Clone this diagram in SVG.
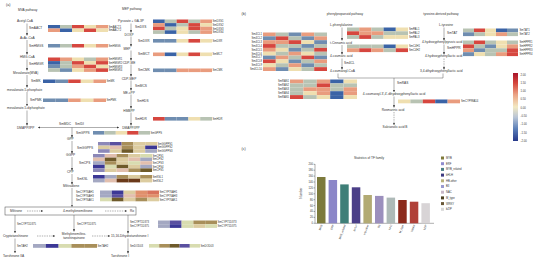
<svg xmlns="http://www.w3.org/2000/svg" width="550" height="261" viewBox="0 0 550 261">
<defs>
<marker id="ah" viewBox="0 0 6 6" refX="6" refY="3" markerWidth="2.2" markerHeight="2.2" markerUnits="userSpaceOnUse" orient="auto-start-reverse"><path d="M0,0 L6,3 L0,6 z" fill="#333"/></marker>
<linearGradient id="cb" x1="0" y1="0" x2="0" y2="1">
<stop offset="0" stop-color="#a8142a"/><stop offset="0.15" stop-color="#d5473d"/><stop offset="0.32" stop-color="#eba486"/><stop offset="0.5" stop-color="#f3e9c2"/><stop offset="0.65" stop-color="#b9c5d6"/><stop offset="0.82" stop-color="#5c80b9"/><stop offset="1" stop-color="#26388a"/>
</linearGradient>
<style>
.t{font-family:"Liberation Sans",Arial,sans-serif;font-size:3.2px;fill:#333}
.s{font-size:2.7px}
.h{font-size:3.6px}
.m{text-anchor:middle}
.e{text-anchor:end}
.ln{stroke:#333;stroke-width:0.4;fill:none}
.ar{marker-end:url(#ah)}
.ab{marker-start:url(#ah);marker-end:url(#ah)}
.da{stroke-dasharray:1.4,1}
.R{fill:#d6473f}.S{fill:#e99c7e}.Y{fill:#efdfb0}.G{fill:#b8c3b3}.B{fill:#6f8db0}.D{fill:#3a63a6}
.q1{fill:#8c88b8}.q2{fill:#5a50a0}.q3{fill:#3c3896}.q4{fill:#a88f5a}.q5{fill:#6e5a2a}.q6{fill:#dccca0}.q7{fill:#e2bfae}.q8{fill:#d8dcb0}.q9{fill:#a4a8c2}.q10{fill:#e0906c}.q11{fill:#d8735c}.q12{fill:#6b3a1a}
</style>
</defs>
<rect width="550" height="261" fill="#ffffff"/>

<!-- ===== Panel (a) ===== -->
<g id="panel-a-titles">
<text class="t h" x="6" y="6">(a)</text>
<text class="t" x="18" y="11">MVA pathway</text>
<text class="t" x="122" y="10">MEP pathway</text>
</g>

<g id="mva-metabolites">
<text class="t" x="17" y="22">Acetyl-CoA</text>
<text class="t" x="20" y="39">AcAc-CoA</text>
<text class="t" x="20" y="58">HMG-CoA</text>
<text class="t" x="13" y="73.5">Mevalonate(MVA)</text>
<text class="t" x="7" y="90.5">mevalonate-5-phosphate</text>
<text class="t" x="7" y="109">mevalonate-5-diphosphate</text>
<text class="t" x="17" y="128.5">DMAPP/IPP</text>
</g>

<g id="mep-metabolites">
<text class="t m" x="131" y="22">Pyruvate + GA-3P</text>
<text class="t m" x="129" y="35.5">DOXP</text>
<text class="t m" x="127" y="49.5">MEP</text>
<text class="t m" x="129" y="63.5">CDP-ME</text>
<text class="t m" x="129" y="79.5">CDP-MEP</text>
<text class="t m" x="129" y="93.5">ME-cPP</text>
<text class="t m" x="129" y="111.5">HMBPP</text>
<text class="t m" x="131" y="128.5">DMAPP/IPP</text>
</g>

<g id="diterpene-metabolites">
<text class="t" x="67" y="140">GPP</text>
<text class="t" x="66" y="156">GGPP</text>
<text class="t" x="67" y="173">CPP</text>
<text class="t" x="63" y="187">Miltiradiene</text>
</g>

<g id="connectors-a">
<line class="ln ar" x1="27" y1="23.5" x2="27" y2="35.5"/>
<line class="ln ar" x1="27" y1="40" x2="27" y2="54.5"/>
<line class="ln ar" x1="27" y1="59.5" x2="27" y2="70.5"/>
<line class="ln ar" x1="27" y1="75" x2="27" y2="87.5"/>
<line class="ln ar" x1="27" y1="92" x2="27" y2="106"/>
<line class="ln ar" x1="27" y1="110.5" x2="27" y2="125.5"/>
<line class="ln ar" x1="131" y1="23.5" x2="131" y2="32.5"/>
<line class="ln ar" x1="131" y1="36.5" x2="131" y2="46.5"/>
<line class="ln ar" x1="131" y1="50.5" x2="131" y2="60.5"/>
<line class="ln ar" x1="131" y1="64.5" x2="131" y2="76.5"/>
<line class="ln ar" x1="131" y1="80.5" x2="131" y2="90.5"/>
<line class="ln ar" x1="131" y1="94.5" x2="131" y2="108.5"/>
<line class="ln ar" x1="131" y1="112.5" x2="131" y2="125.5"/>
<line class="ln ab" x1="38" y1="127.5" x2="119" y2="127.5"/>
<line class="ln ar" x1="72" y1="127.5" x2="72" y2="137.5"/>
<line class="ln ar" x1="72" y1="141" x2="72" y2="153.5"/>
<line class="ln ar" x1="72" y1="157" x2="72" y2="170.5"/>
<line class="ln ar" x1="72" y1="174" x2="72" y2="184.5"/>
<line class="ln ar" x1="72" y1="188" x2="72" y2="206.8"/>
<line class="ln ar" x1="15" y1="215" x2="15" y2="233"/>
<line class="ln ar" x1="74" y1="215" x2="74" y2="231.5"/>
<line class="ln ar" x1="128" y1="215" x2="128" y2="233.5"/>
<line class="ln ar da" x1="37" y1="236" x2="55" y2="236"/>
<line class="ln ar da" x1="92" y1="236" x2="110" y2="236"/>
<line class="ln ar" x1="15" y1="238.5" x2="15" y2="253"/>
<line class="ln ar" x1="128" y1="238.5" x2="128" y2="253.5"/>
<line class="ln ar da" x1="27" y1="211" x2="43" y2="211"/>
<line class="ln ar da" x1="105" y1="211" x2="127" y2="211"/>
</g>

<g id="mdc-idi">
<text class="t" x="59" y="125">SmMDC</text>
<text class="t" x="75" y="125">SmIDI</text>
</g>

<g id="hm-AACT">
<text class="t" x="29" y="29">SmAACT</text>
<rect class="D" x="48" y="25" width="12" height="3.5"/><rect class="G" x="60" y="25" width="12" height="3.5"/><rect class="R" x="72" y="25" width="12" height="3.5"/><rect class="Y" x="84" y="25" width="12" height="3.5"/><rect class="S" x="96" y="25" width="12" height="3.5"/>
<rect class="S" x="48" y="28.5" width="12" height="3.5"/><rect class="D" x="60" y="28.5" width="12" height="3.5"/><rect class="Y" x="72" y="28.5" width="12" height="3.5"/><rect class="R" x="84" y="28.5" width="12" height="3.5"/><rect class="Y" x="96" y="28.5" width="12" height="3.5"/>
<text class="t s" x="108.5" y="27.7">SmAACT1</text><text class="t s" x="108.5" y="31.3">SmAACT2</text>
</g>

<g id="hm-HMGS">
<text class="t" x="29" y="46.8">SmHMGS</text>
<rect class="B" x="48" y="44" width="12" height="3.5"/><rect class="G" x="60" y="44" width="12" height="3.5"/><rect class="R" x="72" y="44" width="12" height="3.5"/><rect class="Y" x="84" y="44" width="12" height="3.5"/><rect class="S" x="96" y="44" width="12" height="3.5"/>
<text class="t s" x="108.5" y="46.8">SmHMGS</text>
</g>

<g id="hm-HMGR">
<text class="t" x="29" y="65">SmHMGR</text>
<rect class="R" x="48" y="57.5" width="12" height="3.6"/><rect class="S" x="60" y="57.5" width="12" height="3.6"/><rect class="Y" x="72" y="57.5" width="12" height="3.6"/><rect class="G" x="84" y="57.5" width="12" height="3.6"/><rect class="S" x="96" y="57.5" width="12" height="3.6"/>
<rect class="D" x="48" y="61.1" width="12" height="3.6"/><rect class="G" x="60" y="61.1" width="12" height="3.6"/><rect class="R" x="72" y="61.1" width="12" height="3.6"/><rect class="Y" x="84" y="61.1" width="12" height="3.6"/><rect class="R" x="96" y="61.1" width="12" height="3.6"/>
<rect class="B" x="48" y="64.7" width="12" height="3.6"/><rect class="G" x="60" y="64.7" width="12" height="3.6"/><rect class="S" x="72" y="64.7" width="12" height="3.6"/><rect class="R" x="84" y="64.7" width="12" height="3.6"/><rect class="Y" x="96" y="64.7" width="12" height="3.6"/>
<rect class="G" x="48" y="68.3" width="12" height="3.6"/><rect class="B" x="60" y="68.3" width="12" height="3.6"/><rect class="Y" x="72" y="68.3" width="12" height="3.6"/><rect class="S" x="84" y="68.3" width="12" height="3.6"/><rect class="R" x="96" y="68.3" width="12" height="3.6"/>
<text class="t s" x="108.5" y="60.3">SmHMGR1</text><text class="t s" x="108.5" y="63.9">SmHMGR2</text><text class="t s" x="108.5" y="67.5">SmHMGR3</text><text class="t s" x="108.5" y="71.1">SmHMGR4</text>
</g>

<g id="hm-MK">
<text class="t" x="31" y="82.3">SmMK</text>
<rect class="D" x="43" y="79.5" width="12.6" height="3.5"/><rect class="B" x="55.6" y="79.5" width="12.6" height="3.5"/><rect class="R" x="68.2" y="79.5" width="12.6" height="3.5"/><rect class="Y" x="80.8" y="79.5" width="12.6" height="3.5"/><rect class="S" x="93.4" y="79.5" width="12.6" height="3.5"/>
<text class="t s" x="106.5" y="82.3">SmMK</text>
</g>

<g id="hm-PMK">
<text class="t" x="30" y="101.3">SmPMK</text>
<rect class="B" x="43" y="98.5" width="12.6" height="3.5"/><rect class="B" x="55.6" y="98.5" width="12.6" height="3.5"/><rect class="S" x="68.2" y="98.5" width="12.6" height="3.5"/><rect class="Y" x="80.8" y="98.5" width="12.6" height="3.5"/><rect class="S" x="93.4" y="98.5" width="12.6" height="3.5"/>
<text class="t s" x="106.5" y="101.3">SmPMK</text>
</g>

<g id="hm-DXS">
<text class="t" x="135" y="27.5">SmDXS</text>
<rect class="D" x="153" y="19.5" width="11.8" height="3.6"/><rect class="G" x="164.8" y="19.5" width="11.8" height="3.6"/><rect class="R" x="176.6" y="19.5" width="11.8" height="3.6"/><rect class="G" x="188.4" y="19.5" width="11.8" height="3.6"/><rect class="S" x="200.2" y="19.5" width="11.8" height="3.6"/>
<rect class="S" x="153" y="23.1" width="11.8" height="3.6"/><rect class="D" x="164.8" y="23.1" width="11.8" height="3.6"/><rect class="G" x="176.6" y="23.1" width="11.8" height="3.6"/><rect class="R" x="188.4" y="23.1" width="11.8" height="3.6"/><rect class="Y" x="200.2" y="23.1" width="11.8" height="3.6"/>
<rect class="R" x="153" y="26.7" width="11.8" height="3.6"/><rect class="G" x="164.8" y="26.7" width="11.8" height="3.6"/><rect class="Y" x="176.6" y="26.7" width="11.8" height="3.6"/><rect class="R" x="188.4" y="26.7" width="11.8" height="3.6"/><rect class="S" x="200.2" y="26.7" width="11.8" height="3.6"/>
<rect class="G" x="153" y="30.3" width="11.8" height="3.6"/><rect class="D" x="164.8" y="30.3" width="11.8" height="3.6"/><rect class="Y" x="176.6" y="30.3" width="11.8" height="3.6"/><rect class="G" x="188.4" y="30.3" width="11.8" height="3.6"/><rect class="S" x="200.2" y="30.3" width="11.8" height="3.6"/>
<text class="t s" x="212.5" y="22.3">SmDXS1</text><text class="t s" x="212.5" y="25.9">SmDXS2</text><text class="t s" x="212.5" y="29.5">SmDXS3</text><text class="t s" x="212.5" y="33.1">SmDXS4</text>
</g>

<g id="hm-DXR">
<text class="t" x="138" y="41.8">SmDXR</text>
<rect class="B" x="153" y="39" width="11.8" height="3.6"/><rect class="B" x="164.8" y="39" width="11.8" height="3.6"/><rect class="Y" x="176.6" y="39" width="11.8" height="3.6"/><rect class="R" x="188.4" y="39" width="11.8" height="3.6"/><rect class="Y" x="200.2" y="39" width="11.8" height="3.6"/>
<text class="t s" x="212.5" y="41.8">SmDXR</text>
</g>

<g id="hm-MCT">
<text class="t" x="138" y="55.3">SmMCT</text>
<rect class="S" x="153" y="52.5" width="11.8" height="3.6"/><rect class="D" x="164.8" y="52.5" width="11.8" height="3.6"/><rect class="Y" x="176.6" y="52.5" width="11.8" height="3.6"/><rect class="R" x="188.4" y="52.5" width="11.8" height="3.6"/><rect class="Y" x="200.2" y="52.5" width="11.8" height="3.6"/>
<text class="t s" x="212.5" y="55.3">SmMCT</text>
</g>

<g id="hm-CMK">
<text class="t" x="138" y="71.3">SmCMK</text>
<rect class="B" x="153" y="68.5" width="11.8" height="3.6"/><rect class="B" x="164.8" y="68.5" width="11.8" height="3.6"/><rect class="S" x="176.6" y="68.5" width="11.8" height="3.6"/><rect class="S" x="188.4" y="68.5" width="11.8" height="3.6"/><rect class="S" x="200.2" y="68.5" width="11.8" height="3.6"/>
<text class="t s" x="212.5" y="71.3">SmCMK</text>
</g>

<g id="lbl-MCS-HDS">
<text class="t" x="135" y="86.5">SmMCS</text>
<text class="t" x="137" y="101.5">SmHDS</text>
</g>

<g id="hm-HDR">
<text class="t" x="135" y="119.8">SmHDR</text>
<rect class="R" x="153" y="117" width="11.8" height="3.6"/><rect class="B" x="164.8" y="117" width="11.8" height="3.6"/><rect class="B" x="176.6" y="117" width="11.8" height="3.6"/><rect class="Y" x="188.4" y="117" width="11.8" height="3.6"/><rect class="G" x="200.2" y="117" width="11.8" height="3.6"/>
<text class="t s" x="212.5" y="119.8">SmHDR</text>
</g>

<g id="hm-GPPS">
<text class="t" x="76" y="133.8">SmGPPS</text>
<rect class="B" x="93" y="131" width="11.4" height="3.6"/><rect class="G" x="104.4" y="131" width="11.4" height="3.6"/><rect class="Y" x="115.8" y="131" width="11.4" height="3.6"/><rect class="R" x="127.2" y="131" width="11.4" height="3.6"/><rect class="G" x="138.6" y="131" width="11.4" height="3.6"/>
<text class="t s" x="150.5" y="133.8">SmGPPS</text>
</g>

<g id="hm-GGPPS">
<text class="t" x="77" y="148.5">SmGGPPS</text>
<rect class="q1" x="98" y="142" width="11.8" height="3.6"/><rect class="q2" x="109.8" y="142" width="11.8" height="3.6"/><rect class="q4" x="121.6" y="142" width="11.8" height="3.6"/><rect class="q6" x="133.4" y="142" width="11.8" height="3.6"/><rect class="q6" x="145.2" y="142" width="11.8" height="3.6"/>
<rect class="q6" x="98" y="145.6" width="11.8" height="3.6"/><rect class="q7" x="109.8" y="145.6" width="11.8" height="3.6"/><rect class="q4" x="121.6" y="145.6" width="11.8" height="3.6"/><rect class="q6" x="133.4" y="145.6" width="11.8" height="3.6"/><rect class="q3" x="145.2" y="145.6" width="11.8" height="3.6"/>
<rect class="q1" x="98" y="149.2" width="11.8" height="3.6"/><rect class="q6" x="109.8" y="149.2" width="11.8" height="3.6"/><rect class="q5" x="121.6" y="149.2" width="11.8" height="3.6"/><rect class="q6" x="133.4" y="149.2" width="11.8" height="3.6"/><rect class="q9" x="145.2" y="149.2" width="11.8" height="3.6"/>
<text class="t s" x="157.5" y="144.8">SmGGPPS1</text><text class="t s" x="157.5" y="148.4">SmGGPPS2</text><text class="t s" x="157.5" y="152">SmGGPPS3</text>
</g>

<g id="hm-CPS">
<text class="t" x="79" y="163.5">SmCPS</text>
<rect class="q1" x="93" y="154" width="11.8" height="3.6"/><rect class="q7" x="104.8" y="154" width="11.8" height="3.6"/><rect class="q4" x="116.6" y="154" width="11.8" height="3.6"/><rect class="q6" x="128.4" y="154" width="11.8" height="3.6"/><rect class="q8" x="140.2" y="154" width="11.8" height="3.6"/>
<rect class="q7" x="93" y="157.6" width="11.8" height="3.6"/><rect class="q5" x="104.8" y="157.6" width="11.8" height="3.6"/><rect class="q6" x="116.6" y="157.6" width="11.8" height="3.6"/><rect class="q7" x="128.4" y="157.6" width="11.8" height="3.6"/><rect class="q9" x="140.2" y="157.6" width="11.8" height="3.6"/>
<rect class="q9" x="93" y="161.2" width="11.8" height="3.6"/><rect class="q4" x="104.8" y="161.2" width="11.8" height="3.6"/><rect class="q6" x="116.6" y="161.2" width="11.8" height="3.6"/><rect class="q8" x="128.4" y="161.2" width="11.8" height="3.6"/><rect class="q7" x="140.2" y="161.2" width="11.8" height="3.6"/>
<rect class="q3" x="93" y="164.8" width="11.8" height="3.6"/><rect class="q8" x="104.8" y="164.8" width="11.8" height="3.6"/><rect class="q5" x="116.6" y="164.8" width="11.8" height="3.6"/><rect class="q6" x="128.4" y="164.8" width="11.8" height="3.6"/><rect class="q9" x="140.2" y="164.8" width="11.8" height="3.6"/>
<rect class="q1" x="93" y="168.4" width="11.8" height="3.6"/><rect class="q6" x="104.8" y="168.4" width="11.8" height="3.6"/><rect class="q7" x="116.6" y="168.4" width="11.8" height="3.6"/><rect class="q4" x="128.4" y="168.4" width="11.8" height="3.6"/><rect class="q5" x="140.2" y="168.4" width="11.8" height="3.6"/>
<text class="t s" x="152.5" y="156.8">SmCPS1</text><text class="t s" x="152.5" y="160.4">SmCPS2</text><text class="t s" x="152.5" y="164">SmCPS3</text><text class="t s" x="152.5" y="167.6">SmCPS4</text><text class="t s" x="152.5" y="171.2">SmCPS5</text>
</g>

<g id="hm-KSL">
<text class="t" x="77" y="179.6">SmKSL</text>
<rect class="q3" x="93" y="175" width="11.8" height="3.7"/><rect class="q9" x="104.8" y="175" width="11.8" height="3.7"/><rect class="q4" x="116.6" y="175" width="11.8" height="3.7"/><rect class="q6" x="128.4" y="175" width="11.8" height="3.7"/><rect class="q4" x="140.2" y="175" width="11.8" height="3.7"/>
<rect class="q9" x="93" y="178.7" width="11.8" height="3.7"/><rect class="q7" x="104.8" y="178.7" width="11.8" height="3.7"/><rect class="q12" x="116.6" y="178.7" width="11.8" height="3.7"/><rect class="q12" x="128.4" y="178.7" width="11.8" height="3.7"/><rect class="q6" x="140.2" y="178.7" width="11.8" height="3.7"/>
<text class="t s" x="152.5" y="177.8">SmKSL1</text><text class="t s" x="152.5" y="181.5">SmKSL2</text>
</g>

<g id="hm-CYP76">
<text class="t s" x="76" y="193.3">SmCYP76AH1</text><text class="t s" x="76" y="196.9">SmCYP76AH3</text><text class="t s" x="76" y="200.5">SmCYP76AK1</text>
<rect class="q9" x="100" y="190.5" width="11.8" height="3.6"/><rect class="q3" x="111.8" y="190.5" width="11.8" height="3.6"/><rect class="q6" x="123.6" y="190.5" width="11.8" height="3.6"/><rect class="q10" x="135.4" y="190.5" width="11.8" height="3.6"/><rect class="q11" x="147.2" y="190.5" width="11.8" height="3.6"/>
<rect class="q9" x="100" y="194.1" width="11.8" height="3.6"/><rect class="q2" x="111.8" y="194.1" width="11.8" height="3.6"/><rect class="q7" x="123.6" y="194.1" width="11.8" height="3.6"/><rect class="q10" x="135.4" y="194.1" width="11.8" height="3.6"/><rect class="q10" x="147.2" y="194.1" width="11.8" height="3.6"/>
<rect class="q8" x="100" y="197.7" width="11.8" height="3.6"/><rect class="q5" x="111.8" y="197.7" width="11.8" height="3.6"/><rect class="q6" x="123.6" y="197.7" width="11.8" height="3.6"/><rect class="q4" x="135.4" y="197.7" width="11.8" height="3.6"/><rect class="q6" x="147.2" y="197.7" width="11.8" height="3.6"/>
<text class="t s" x="159.5" y="193.3">SmCYP76AH1</text><text class="t s" x="159.5" y="196.9">SmCYP76AH3</text><text class="t s" x="159.5" y="200.5">SmCYP76AK1</text>
</g>

<g id="box-miltirone">
<rect x="5" y="207" width="131" height="8" fill="none" stroke="#444" stroke-width="0.5"/>
<text class="t" x="10" y="212.2">Miltirone</text>
<text class="t" x="63" y="212.2">4-methylenemiltirone</text>
<text class="t" x="130" y="212.2">Ro</text>
</g>

<g id="tanshinones">
<text class="t s" x="17" y="224.5">SmCYP71D375</text>
<text class="t s" x="77" y="224.5">SmCYP71D375</text>
<text class="t" x="3" y="237">Cryptotanshinone</text>
<text class="t m" x="74" y="235">Methylenemiltiro-</text>
<text class="t m" x="74" y="238.8">tanshinquinone</text>
<text class="t" x="111" y="237">15,16-Dihydrotanshinone I</text>
<text class="t" x="3" y="256.5">Tanshinone IIA</text>
<text class="t" x="111" y="257">Tanshinone I</text>
</g>

<g id="hm-CYP71D">
<text class="t s" x="130" y="223">SmCYP71D373</text><text class="t s" x="130" y="226.8">SmCYP71D375</text>
<rect class="q9" x="158" y="220.5" width="11.8" height="3.7"/><rect class="q2" x="169.8" y="220.5" width="11.8" height="3.7"/><rect class="q8" x="181.6" y="220.5" width="11.8" height="3.7"/><rect class="q4" x="193.4" y="220.5" width="11.8" height="3.7"/><rect class="q4" x="205.2" y="220.5" width="11.8" height="3.7"/>
<rect class="q9" x="158" y="224.2" width="11.8" height="3.7"/><rect class="q3" x="169.8" y="224.2" width="11.8" height="3.7"/><rect class="q8" x="181.6" y="224.2" width="11.8" height="3.7"/><rect class="q6" x="193.4" y="224.2" width="11.8" height="3.7"/><rect class="q8" x="205.2" y="224.2" width="11.8" height="3.7"/>
<text class="t s" x="217.5" y="223">SmCYP71D373</text><text class="t s" x="217.5" y="226.8">SmCYP71D375</text>
</g>

<g id="hm-TAH2">
<text class="t s" x="17" y="247">SmTAH2</text>
<rect class="q9" x="33" y="244" width="12.8" height="3.8"/><rect class="q3" x="45.8" y="244" width="12.8" height="3.8"/><rect class="q8" x="58.6" y="244" width="12.8" height="3.8"/><rect class="q4" x="71.4" y="244" width="12.8" height="3.8"/><rect class="q4" x="84.2" y="244" width="12.8" height="3.8"/>
<text class="t s" x="97.5" y="247">SmTAH2</text>
</g>

<g id="hm-DOD">
<text class="t s" x="130" y="246.8">SmDOD03</text>
<rect class="q8" x="149" y="244" width="10.2" height="3.6"/><rect class="q4" x="159.2" y="244" width="10.2" height="3.6"/><rect class="q5" x="169.4" y="244" width="10.2" height="3.6"/><rect class="q2" x="179.6" y="244" width="10.2" height="3.6"/><rect class="q8" x="189.8" y="244" width="10.2" height="3.6"/>
<text class="t s" x="200.5" y="246.8">SmDOD03</text>
</g>

<!-- ===== Panel (b) ===== -->
<g id="panel-b-titles">
<text class="t h" x="241.5" y="15">(b)</text>
<text class="t m" x="345" y="15">phenylpropanoid pathway</text>
<text class="t m" x="441" y="15">tyrosine-derived pathway</text>
</g>

<g id="phe-metabolites">
<text class="t" x="330" y="26">L-phenylalanine</text>
<text class="t" x="330" y="43.5">t-Cinnamic acid</text>
<text class="t" x="330" y="57">4-coumaric acid</text>
<text class="t" x="344" y="64">Sm4CL</text>
<text class="t" x="330" y="72">4-coumaroyl-CoA</text>
</g>

<g id="tyr-metabolites">
<text class="t m" x="446" y="26">L-tyrosine</text>
<text class="t" x="447" y="34">SmTAT</text>
<text class="t" x="422" y="43">4-hydroxyphenylpyruvic acid</text>
<text class="t" x="447" y="49">SmHPPR</text>
<text class="t" x="425" y="57">4-hydroxyphenyllactic acid</text>
<text class="t" x="420" y="72">3,4-dihydroxyphenyllactic acid</text>
</g>

<g id="ra-metabolites">
<text class="t" x="397" y="84">SmRAS</text>
<text class="t m" x="394" y="95">4-coumaroyl-3',4'-dihydroxyphenyllactic acid</text>
<text class="t m" x="393" y="110.5">Rosmarinic acid</text>
<text class="t m" x="395" y="128">Salvianolic acid B</text>
</g>

<g id="connectors-b">
<line class="ln ar" x1="342" y1="27.5" x2="342" y2="40.5"/>
<line class="ln ar" x1="342" y1="45" x2="342" y2="54.5"/>
<line class="ln ar" x1="342" y1="58.5" x2="342" y2="69.5"/>
<line class="ln ar" x1="444" y1="27.5" x2="444" y2="40.5"/>
<line class="ln ar" x1="444" y1="44.5" x2="444" y2="54.5"/>
<line class="ln ar da" x1="444" y1="58.5" x2="444" y2="69.5"/>
<polyline class="ln" points="338,73.5 338,78 443,78 443,73.5"/>
<line class="ln ar" x1="394" y1="78" x2="394" y2="92"/>
<line class="ln ar" x1="394" y1="96.5" x2="394" y2="107.5"/>
<line class="ln ar da" x1="394" y1="112" x2="394" y2="125"/>
</g>

<g id="hm-4CL">
<text class="t s e" x="262" y="35.3">Sm4CL1</text><text class="t s e" x="262" y="39.15">Sm4CL2</text><text class="t s e" x="262" y="43">Sm4CL3</text><text class="t s e" x="262" y="46.85">Sm4CL4</text><text class="t s e" x="262" y="50.7">Sm4CL5</text><text class="t s e" x="262" y="54.55">Sm4CL6</text><text class="t s e" x="262" y="58.4">Sm4CL7</text><text class="t s e" x="262" y="62.25">Sm4CL8</text><text class="t s e" x="262" y="66.1">Sm4CL9</text><text class="t s e" x="262" y="69.95">Sm4CL10</text>
<rect class="S" x="263" y="32.5" width="12.8" height="3.85"/><rect class="G" x="275.8" y="32.5" width="12.8" height="3.85"/><rect class="B" x="288.6" y="32.5" width="12.8" height="3.85"/><rect class="S" x="301.4" y="32.5" width="12.8" height="3.85"/><rect class="G" x="314.2" y="32.5" width="12.8" height="3.85"/>
<rect class="B" x="263" y="36.35" width="12.8" height="3.85"/><rect class="R" x="275.8" y="36.35" width="12.8" height="3.85"/><rect class="G" x="288.6" y="36.35" width="12.8" height="3.85"/><rect class="B" x="301.4" y="36.35" width="12.8" height="3.85"/><rect class="S" x="314.2" y="36.35" width="12.8" height="3.85"/>
<rect class="S" x="263" y="40.2" width="12.8" height="3.85"/><rect class="S" x="275.8" y="40.2" width="12.8" height="3.85"/><rect class="R" x="288.6" y="40.2" width="12.8" height="3.85"/><rect class="Y" x="301.4" y="40.2" width="12.8" height="3.85"/><rect class="B" x="314.2" y="40.2" width="12.8" height="3.85"/>
<rect class="R" x="263" y="44.05" width="12.8" height="3.85"/><rect class="G" x="275.8" y="44.05" width="12.8" height="3.85"/><rect class="G" x="288.6" y="44.05" width="12.8" height="3.85"/><rect class="B" x="301.4" y="44.05" width="12.8" height="3.85"/><rect class="G" x="314.2" y="44.05" width="12.8" height="3.85"/>
<rect class="S" x="263" y="47.9" width="12.8" height="3.85"/><rect class="Y" x="275.8" y="47.9" width="12.8" height="3.85"/><rect class="B" x="288.6" y="47.9" width="12.8" height="3.85"/><rect class="G" x="301.4" y="47.9" width="12.8" height="3.85"/><rect class="R" x="314.2" y="47.9" width="12.8" height="3.85"/>
<rect class="Y" x="263" y="51.75" width="12.8" height="3.85"/><rect class="G" x="275.8" y="51.75" width="12.8" height="3.85"/><rect class="S" x="288.6" y="51.75" width="12.8" height="3.85"/><rect class="Y" x="301.4" y="51.75" width="12.8" height="3.85"/><rect class="G" x="314.2" y="51.75" width="12.8" height="3.85"/>
<rect class="B" x="263" y="55.6" width="12.8" height="3.85"/><rect class="S" x="275.8" y="55.6" width="12.8" height="3.85"/><rect class="G" x="288.6" y="55.6" width="12.8" height="3.85"/><rect class="R" x="301.4" y="55.6" width="12.8" height="3.85"/><rect class="B" x="314.2" y="55.6" width="12.8" height="3.85"/>
<rect class="R" x="263" y="59.45" width="12.8" height="3.85"/><rect class="Y" x="275.8" y="59.45" width="12.8" height="3.85"/><rect class="B" x="288.6" y="59.45" width="12.8" height="3.85"/><rect class="G" x="301.4" y="59.45" width="12.8" height="3.85"/><rect class="S" x="314.2" y="59.45" width="12.8" height="3.85"/>
<rect class="Y" x="263" y="63.3" width="12.8" height="3.85"/><rect class="G" x="275.8" y="63.3" width="12.8" height="3.85"/><rect class="S" x="288.6" y="63.3" width="12.8" height="3.85"/><rect class="B" x="301.4" y="63.3" width="12.8" height="3.85"/><rect class="G" x="314.2" y="63.3" width="12.8" height="3.85"/>
<rect class="S" x="263" y="67.15" width="12.8" height="3.85"/><rect class="B" x="275.8" y="67.15" width="12.8" height="3.85"/><rect class="Y" x="288.6" y="67.15" width="12.8" height="3.85"/><rect class="G" x="301.4" y="67.15" width="12.8" height="3.85"/><rect class="R" x="314.2" y="67.15" width="12.8" height="3.85"/>
</g>

<g id="hm-PAL">
<rect class="G" x="347" y="27.5" width="12.2" height="3.8"/><rect class="S" x="359.2" y="27.5" width="12.2" height="3.8"/><rect class="G" x="371.4" y="27.5" width="12.2" height="3.8"/><rect class="D" x="383.6" y="27.5" width="12.2" height="3.8"/><rect class="Y" x="395.8" y="27.5" width="12.2" height="3.8"/>
<rect class="R" x="347" y="31.3" width="12.2" height="3.8"/><rect class="S" x="359.2" y="31.3" width="12.2" height="3.8"/><rect class="S" x="371.4" y="31.3" width="12.2" height="3.8"/><rect class="G" x="383.6" y="31.3" width="12.2" height="3.8"/><rect class="G" x="395.8" y="31.3" width="12.2" height="3.8"/>
<rect class="G" x="347" y="35.1" width="12.2" height="3.8"/><rect class="R" x="359.2" y="35.1" width="12.2" height="3.8"/><rect class="G" x="371.4" y="35.1" width="12.2" height="3.8"/><rect class="Y" x="383.6" y="35.1" width="12.2" height="3.8"/><rect class="Y" x="395.8" y="35.1" width="12.2" height="3.8"/>
<text class="t s" x="409" y="30.3">SmPAL1</text><text class="t s" x="409" y="34.1">SmPAL2</text><text class="t s" x="409" y="37.9">SmPAL3</text>
</g>

<g id="hm-C4H">
<rect class="G" x="347" y="44.5" width="12.2" height="3.8"/><rect class="G" x="359.2" y="44.5" width="12.2" height="3.8"/><rect class="G" x="371.4" y="44.5" width="12.2" height="3.8"/><rect class="D" x="383.6" y="44.5" width="12.2" height="3.8"/><rect class="Y" x="395.8" y="44.5" width="12.2" height="3.8"/>
<rect class="S" x="347" y="48.3" width="12.2" height="3.8"/><rect class="R" x="359.2" y="48.3" width="12.2" height="3.8"/><rect class="S" x="371.4" y="48.3" width="12.2" height="3.8"/><rect class="G" x="383.6" y="48.3" width="12.2" height="3.8"/><rect class="R" x="395.8" y="48.3" width="12.2" height="3.8"/>
<text class="t s" x="409" y="47.3">SmC4H1</text><text class="t s" x="409" y="51.1">SmC4H2</text>
</g>

<g id="hm-TAT">
<rect class="G" x="463" y="28.5" width="11" height="3.8"/><rect class="R" x="474" y="28.5" width="11" height="3.8"/><rect class="Y" x="485" y="28.5" width="11" height="3.8"/><rect class="D" x="496" y="28.5" width="11" height="3.8"/><rect class="B" x="507" y="28.5" width="11" height="3.8"/>
<rect class="B" x="463" y="32.3" width="11" height="3.8"/><rect class="G" x="474" y="32.3" width="11" height="3.8"/><rect class="Y" x="485" y="32.3" width="11" height="3.8"/><rect class="S" x="496" y="32.3" width="11" height="3.8"/><rect class="G" x="507" y="32.3" width="11" height="3.8"/>
<text class="t s" x="519.5" y="31.3">SmTAT1</text><text class="t s" x="519.5" y="35.1">SmTAT2</text>
</g>

<g id="hm-HPPR">
<rect class="G" x="463" y="40.5" width="11" height="3.9"/><rect class="R" x="474" y="40.5" width="11" height="3.9"/><rect class="G" x="485" y="40.5" width="11" height="3.9"/><rect class="Y" x="496" y="40.5" width="11" height="3.9"/><rect class="G" x="507" y="40.5" width="11" height="3.9"/>
<rect class="R" x="463" y="44.4" width="11" height="3.9"/><rect class="G" x="474" y="44.4" width="11" height="3.9"/><rect class="B" x="485" y="44.4" width="11" height="3.9"/><rect class="Y" x="496" y="44.4" width="11" height="3.9"/><rect class="S" x="507" y="44.4" width="11" height="3.9"/>
<rect class="S" x="463" y="48.3" width="11" height="3.9"/><rect class="B" x="474" y="48.3" width="11" height="3.9"/><rect class="G" x="485" y="48.3" width="11" height="3.9"/><rect class="G" x="496" y="48.3" width="11" height="3.9"/><rect class="R" x="507" y="48.3" width="11" height="3.9"/>
<rect class="B" x="463" y="52.2" width="11" height="3.9"/><rect class="Y" x="474" y="52.2" width="11" height="3.9"/><rect class="G" x="485" y="52.2" width="11" height="3.9"/><rect class="S" x="496" y="52.2" width="11" height="3.9"/><rect class="R" x="507" y="52.2" width="11" height="3.9"/>
<text class="t s" x="519.5" y="43.4">SmHPPR1</text><text class="t s" x="519.5" y="47.3">SmHPPR2</text><text class="t s" x="519.5" y="51.2">SmHPPR3</text><text class="t s" x="519.5" y="55.1">SmHPPR4</text>
</g>

<g id="hm-RAS">
<text class="t s e" x="289" y="82.4">SmRAS1</text><text class="t s e" x="289" y="86.3">SmRAS2</text><text class="t s e" x="289" y="90.2">SmRAS3</text><text class="t s e" x="289" y="94.1">SmRAS4</text><text class="t s e" x="289" y="98">SmRAS5</text>
<rect class="S" x="290" y="79.5" width="13.4" height="3.9"/><rect class="G" x="303.4" y="79.5" width="13.4" height="3.9"/><rect class="S" x="316.8" y="79.5" width="13.4" height="3.9"/><rect class="D" x="330.2" y="79.5" width="13.4" height="3.9"/><rect class="Y" x="343.6" y="79.5" width="13.4" height="3.9"/>
<rect class="G" x="290" y="83.4" width="13.4" height="3.9"/><rect class="G" x="303.4" y="83.4" width="13.4" height="3.9"/><rect class="R" x="316.8" y="83.4" width="13.4" height="3.9"/><rect class="G" x="330.2" y="83.4" width="13.4" height="3.9"/><rect class="G" x="343.6" y="83.4" width="13.4" height="3.9"/>
<rect class="G" x="290" y="87.3" width="13.4" height="3.9"/><rect class="S" x="303.4" y="87.3" width="13.4" height="3.9"/><rect class="S" x="316.8" y="87.3" width="13.4" height="3.9"/><rect class="G" x="330.2" y="87.3" width="13.4" height="3.9"/><rect class="S" x="343.6" y="87.3" width="13.4" height="3.9"/>
<rect class="G" x="290" y="91.2" width="13.4" height="3.9"/><rect class="Y" x="303.4" y="91.2" width="13.4" height="3.9"/><rect class="S" x="316.8" y="91.2" width="13.4" height="3.9"/><rect class="D" x="330.2" y="91.2" width="13.4" height="3.9"/><rect class="S" x="343.6" y="91.2" width="13.4" height="3.9"/>
<rect class="R" x="290" y="95.1" width="13.4" height="3.9"/><rect class="G" x="303.4" y="95.1" width="13.4" height="3.9"/><rect class="Y" x="316.8" y="95.1" width="13.4" height="3.9"/><rect class="D" x="330.2" y="95.1" width="13.4" height="3.9"/><rect class="Y" x="343.6" y="95.1" width="13.4" height="3.9"/>
</g>

<g id="hm-CYP98A14">
<rect class="Y" x="398" y="99.5" width="12.4" height="3.8"/><rect class="G" x="410.4" y="99.5" width="12.4" height="3.8"/><rect class="R" x="422.8" y="99.5" width="12.4" height="3.8"/><rect class="D" x="435.2" y="99.5" width="12.4" height="3.8"/><rect class="S" x="447.6" y="99.5" width="12.4" height="3.8"/>
<text class="t s" x="461" y="102.4">SmCYP98A14</text>
</g>

<g id="colorbar">
<rect x="513" y="73" width="5" height="68" fill="url(#cb)"/>
<text class="t s" x="520.5" y="75.5">2.00</text><text class="t s" x="520.5" y="83.8">1.50</text><text class="t s" x="520.5" y="92.1">1.00</text><text class="t s" x="520.5" y="100.4">0.50</text><text class="t s" x="520.5" y="108.7">0.00</text><text class="t s" x="520.5" y="117">-0.50</text><text class="t s" x="520.5" y="125.3">-1.00</text><text class="t s" x="520.5" y="133.6">-1.50</text><text class="t s" x="520.5" y="141.9">-2.00</text>
</g>

<!-- ===== Panel (c) ===== -->
<g id="panel-c">
<text class="t h" x="241.5" y="149.5">(c)</text>
<text class="t m" x="369" y="158.5">Statistics of TF family</text>
<text class="t" transform="translate(302,193) rotate(-90)" text-anchor="middle">Number</text>
<g id="axes" stroke="#333" stroke-width="0.4">
<line x1="315" y1="164" x2="315" y2="223.3"/>
<line x1="315" y1="223.3" x2="434" y2="223.3"/>
<line x1="313.6" y1="223.3" x2="315" y2="223.3"/><line x1="313.6" y1="217.4" x2="315" y2="217.4"/><line x1="313.6" y1="211.5" x2="315" y2="211.5"/><line x1="313.6" y1="205.6" x2="315" y2="205.6"/><line x1="313.6" y1="199.7" x2="315" y2="199.7"/><line x1="313.6" y1="193.8" x2="315" y2="193.8"/><line x1="313.6" y1="187.9" x2="315" y2="187.9"/><line x1="313.6" y1="182" x2="315" y2="182"/><line x1="313.6" y1="176.1" x2="315" y2="176.1"/><line x1="313.6" y1="170.2" x2="315" y2="170.2"/><line x1="313.6" y1="164.3" x2="315" y2="164.3"/>
</g>
<g id="ytick-labels">
<text class="t s e" x="313" y="224.2">0</text><text class="t s e" x="313" y="218.3">20</text><text class="t s e" x="313" y="212.4">40</text><text class="t s e" x="313" y="206.5">60</text><text class="t s e" x="313" y="200.6">80</text><text class="t s e" x="313" y="194.7">100</text><text class="t s e" x="313" y="188.8">120</text><text class="t s e" x="313" y="182.9">140</text><text class="t s e" x="313" y="177">160</text><text class="t s e" x="313" y="171.1">180</text><text class="t s e" x="313" y="165.2">200</text>
</g>
<g id="bars">
<rect x="317" y="177" width="8.5" height="46.3" fill="#7c7a3c"/>
<rect x="328.6" y="180" width="8.5" height="43.3" fill="#8b86c8"/>
<rect x="340.2" y="184.4" width="8.5" height="38.9" fill="#3f7f78"/>
<rect x="351.8" y="187.3" width="8.5" height="36" fill="#4b3f88"/>
<rect x="363.4" y="195" width="8.5" height="28.3" fill="#b2aa74"/>
<rect x="375" y="195.9" width="8.5" height="27.4" fill="#9b8fbd"/>
<rect x="386.6" y="197.6" width="8.5" height="25.7" fill="#aebab8"/>
<rect x="398.2" y="200" width="8.5" height="23.3" fill="#8c2a1c"/>
<rect x="409.8" y="201.7" width="8.5" height="21.6" fill="#b04038"/>
<rect x="421.4" y="203.2" width="8.5" height="20.1" fill="#d8d4d6"/>
</g>
<g id="bar-labels">
<text class="t s e" transform="translate(322.5,225) rotate(-70)">MYB</text>
<text class="t s e" transform="translate(334.1,225) rotate(-70)">ERF</text>
<text class="t s e" transform="translate(345.7,225) rotate(-70)">MYB_related</text>
<text class="t s e" transform="translate(357.3,225) rotate(-70)">bHLH</text>
<text class="t s e" transform="translate(368.9,225) rotate(-70)">HB-other</text>
<text class="t s e" transform="translate(380.5,225) rotate(-70)">B3</text>
<text class="t s e" transform="translate(392.1,225) rotate(-70)">NAC</text>
<text class="t s e" transform="translate(403.7,225) rotate(-70)">M_type</text>
<text class="t s e" transform="translate(415.3,225) rotate(-70)">WRKY</text>
<text class="t s e" transform="translate(426.9,225) rotate(-70)">bZIP</text>
</g>
<g id="legend">
<rect x="441" y="156.5" width="3" height="3" fill="#7f7a3a"/><text class="t s" x="446" y="158.9">MYB</text>
<rect x="441" y="162.2" width="3" height="3" fill="#8f8ccf"/><text class="t s" x="446" y="164.6">ERF</text>
<rect x="441" y="167.9" width="3" height="3" fill="#4c7f86"/><text class="t s" x="446" y="170.3">MYB_related</text>
<rect x="441" y="173.6" width="3" height="3" fill="#3d3a80"/><text class="t s" x="446" y="176">bHLH</text>
<rect x="441" y="179.3" width="3" height="3" fill="#b9b27a"/><text class="t s" x="446" y="181.7">HB-other</text>
<rect x="441" y="185" width="3" height="3" fill="#9a9ad0"/><text class="t s" x="446" y="187.4">B3</text>
<rect x="441" y="190.7" width="3" height="3" fill="#c8b8c8"/><text class="t s" x="446" y="193.1">NAC</text>
<rect x="441" y="196.4" width="3" height="3" fill="#4a4020"/><text class="t s" x="446" y="198.8">M_type</text>
<rect x="441" y="202.1" width="3" height="3" fill="#6a5838"/><text class="t s" x="446" y="204.5">WRKY</text>
<rect x="441" y="207.8" width="3" height="3" fill="#d8d8d8"/><text class="t s" x="446" y="210.2">bZIP</text>
</g>
</g>
</svg>
